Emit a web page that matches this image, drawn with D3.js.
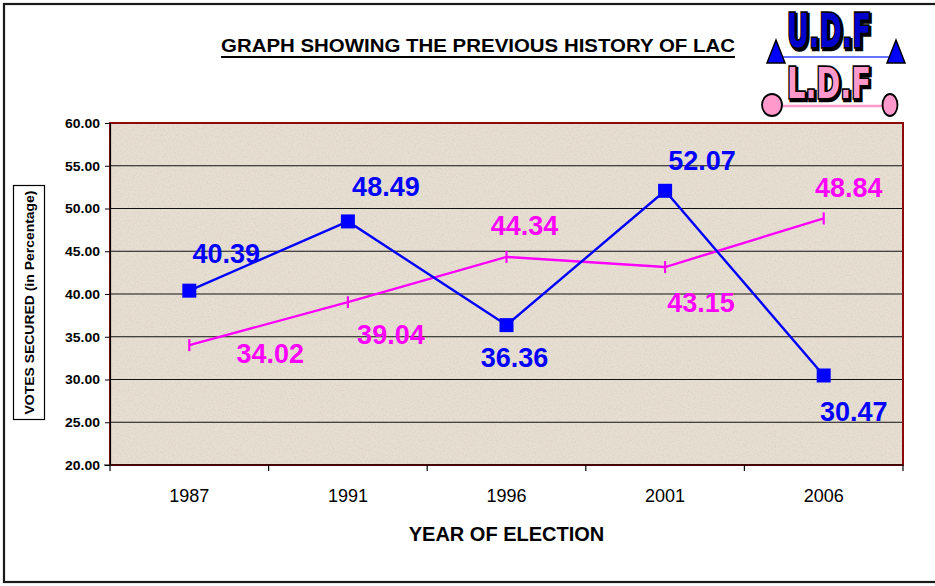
<!DOCTYPE html>
<html><head><meta charset="utf-8">
<script src="https://cdn.jsdelivr.net/npm/d3@7"></script>
<style>html,body{margin:0;padding:0;background:#fff;}svg{display:block;font-family:"Liberation Sans",Arial,sans-serif;}</style>
</head><body>
<svg id="chart" width="935" height="586"></svg>
<script>
// ---- data ----
const years = ["1987", "1991", "1996", "2001", "2006"];
const udfValues = [40.39, 48.49, 36.36, 52.07, 30.47];
const ldfValues = [34.02, 39.04, 44.34, 43.15, 48.84];
const yTicks = [20, 25, 30, 35, 40, 45, 50, 55, 60];
const titleText = "GRAPH SHOWING THE PREVIOUS HISTORY OF LAC";
const xTitle = "YEAR OF ELECTION";
const yTitle = "VOTES SECURED (in Percentage)";
// label placement offsets (styling)
const udfLabelOff = [[37, -28], [38, -25], [8, 42], [37, -21], [30, 46]];
const ldfLabelOff = [[81, 18], [43, 42], [18, -22], [36, 45], [25, -21]];

const svg = d3.select("#chart");
const defs = svg.append("defs");
const f = defs.append("filter").attr("id", "tex").attr("x", 0).attr("y", 0).attr("width", 1).attr("height", 1);
f.append("feTurbulence").attr("type", "fractalNoise").attr("baseFrequency", 0.6).attr("numOctaves", 2).attr("seed", 7).attr("result", "n");
f.append("feColorMatrix").attr("in", "n").attr("type", "matrix")
  .attr("values", "0 0 0 0 0.55  0 0 0 0 0.48  0 0 0 0 0.40  1.4 0 0 0 -0.62").attr("result", "c");
f.append("feComposite").attr("in", "c").attr("in2", "SourceGraphic").attr("operator", "over");

// outer border
svg.append("rect").attr("x", 4).attr("y", 4).attr("width", 940).attr("height", 578)
  .attr("fill", "none").attr("stroke", "#1a1a1a").attr("stroke-width", 2.2);

const L = 110, R = 903, T = 123, B = 465;
const x = d3.scaleBand().domain(years).range([L, R]).padding(0);
const y = d3.scaleLinear().domain([20, 60]).range([B, T]);
const cx = d => x(d) + x.bandwidth() / 2;

// plot background
svg.append("rect").attr("x", L).attr("y", T).attr("width", R - L).attr("height", B - T).attr("fill", "#e7ded2");
svg.append("rect").attr("x", L).attr("y", T).attr("width", R - L).attr("height", B - T).attr("fill", "#e7ded2").attr("filter", "url(#tex)").attr("opacity", 0.45);

// gridlines
svg.append("g").selectAll("line").data(yTicks.filter(v => v > 20 && v < 60)).join("line")
  .attr("x1", L).attr("x2", R).attr("y1", d => y(d)).attr("y2", d => y(d))
  .attr("stroke", "#111").attr("stroke-width", 1.2);

// plot border
svg.append("rect").attr("x", L).attr("y", T).attr("width", R - L).attr("height", B - T)
  .attr("fill", "none").attr("stroke", "#8b0a0a").attr("stroke-width", 2);

// y axis
const yAxis = d3.axisLeft(y).tickValues(yTicks).tickFormat(d3.format(".2f")).tickSize(5).tickPadding(5);
const gy = svg.append("g").attr("transform", `translate(${L},0)`).call(yAxis);
gy.select(".domain").attr("stroke", "#000").attr("stroke-width", 1.2);
gy.selectAll(".tick line").attr("stroke", "#000");
gy.selectAll(".tick text").attr("font-size", 13.5).attr("font-weight", "bold").attr("fill", "#000")
  .attr("font-family", "Liberation Sans, Arial, sans-serif").attr("textLength", 35).attr("lengthAdjust", "spacingAndGlyphs");

// x axis (ticks at band boundaries)
const gx = svg.append("g").attr("transform", `translate(0,${B})`);
gx.append("line").attr("x1", L - 6).attr("x2", R).attr("y1", 0).attr("y2", 0).attr("stroke", "#000").attr("stroke-width", 1.2);
gx.selectAll("line.tk").data(years.concat(["end"])).join("line").attr("class", "tk")
  .attr("x1", (d, i) => i < years.length ? x(d) : R).attr("x2", (d, i) => i < years.length ? x(d) : R)
  .attr("y1", 0).attr("y2", 6).attr("stroke", "#000").attr("stroke-width", 1.2);
gx.selectAll("text").data(years).join("text")
  .attr("x", d => cx(d)).attr("y", 37).attr("text-anchor", "middle")
  .attr("font-size", 18).attr("fill", "#000").text(d => d);

// axis titles
svg.append("text").attr("x", (L + R) / 2).attr("y", 541).attr("text-anchor", "middle")
  .attr("font-size", 20).attr("font-weight", "bold").attr("fill", "#000").text(xTitle);
svg.append("rect").attr("x", 13.5).attr("y", 185.5).attr("width", 31).attr("height", 234)
  .attr("fill", "#fff").attr("stroke", "#000").attr("stroke-width", 1.2);
svg.append("text").attr("transform", "translate(33.5,302.5) rotate(-90)").attr("text-anchor", "middle")
  .attr("font-size", 13).attr("font-weight", "bold").attr("fill", "#000")
  .attr("textLength", 224).attr("lengthAdjust", "spacingAndGlyphs").text(yTitle);

// title
svg.append("text").attr("x", 478).attr("y", 52).attr("text-anchor", "middle")
  .attr("font-size", 18.5).attr("font-weight", "bold").attr("fill", "#000")
  .attr("textLength", 514).attr("lengthAdjust", "spacingAndGlyphs").text(titleText);
svg.append("line").attr("x1", 221).attr("x2", 735).attr("y1", 57).attr("y2", 57).attr("stroke", "#000").attr("stroke-width", 2);

// lines
const line = d3.line().x((d, i) => cx(years[i])).y(d => y(d));
svg.append("path").datum(ldfValues).attr("d", line).attr("fill", "none").attr("stroke", "#ff00ff").attr("stroke-width", 2.4);
svg.append("path").datum(udfValues).attr("d", line).attr("fill", "none").attr("stroke", "#0000ff").attr("stroke-width", 2.4);

// markers
svg.append("g").selectAll("line").data(ldfValues).join("line")
  .attr("x1", (d, i) => cx(years[i])).attr("x2", (d, i) => cx(years[i]))
  .attr("y1", d => y(d) - 6).attr("y2", d => y(d) + 6).attr("stroke", "#ff00ff").attr("stroke-width", 2.2);
svg.append("g").selectAll("rect").data(udfValues).join("rect")
  .attr("x", (d, i) => cx(years[i]) - 7).attr("y", d => y(d) - 7).attr("width", 14).attr("height", 14).attr("fill", "#0000ff");

// value labels
svg.append("g").selectAll("text").data(udfValues).join("text")
  .attr("x", (d, i) => cx(years[i]) + udfLabelOff[i][0]).attr("y", (d, i) => y(d) + udfLabelOff[i][1])
  .attr("text-anchor", "middle").attr("font-size", 27).attr("font-weight", "bold").attr("fill", "#0000ff")
  .text(d => d.toFixed(2));
svg.append("g").selectAll("text").data(ldfValues).join("text")
  .attr("x", (d, i) => cx(years[i]) + ldfLabelOff[i][0]).attr("y", (d, i) => y(d) + ldfLabelOff[i][1])
  .attr("text-anchor", "middle").attr("font-size", 27).attr("font-weight", "bold").attr("fill", "#ff00ff")
  .text(d => d.toFixed(2));

// logo
const logo = svg.append("g");
logo.append("line").attr("x1", 780).attr("x2", 893).attr("y1", 57).attr("y2", 57).attr("stroke", "#3344ff").attr("stroke-width", 1.3);
logo.selectAll("path.tri").data([776, 896]).join("path").attr("class", "tri")
  .attr("d", d => `M${d},40 L${d + 9},63 L${d - 9},63 Z`).attr("fill", "#0000ff").attr("stroke", "#000").attr("stroke-width", 1.5);
[["U.D.F", 47, "#0000cc", 46], ["L.D.F", 98, "#ff99cc", 42]].forEach(([t, by, col, fs]) => {
  logo.append("text").attr("x", 830.5).attr("y", by + 1.5).attr("text-anchor", "middle")
    .attr("font-size", fs).attr("font-weight", "bold").attr("font-family", "DejaVu Sans Condensed, Liberation Sans Narrow, sans-serif")
    .attr("textLength", 84).attr("lengthAdjust", "spacingAndGlyphs")
    .attr("fill", "#000").attr("stroke", "#000").attr("stroke-width", 4.5).text(t);
  logo.append("text").attr("x", 829).attr("y", by).attr("text-anchor", "middle")
    .attr("font-size", fs).attr("font-weight", "bold").attr("font-family", "DejaVu Sans Condensed, Liberation Sans Narrow, sans-serif")
    .attr("textLength", 84).attr("lengthAdjust", "spacingAndGlyphs")
    .attr("fill", col).attr("stroke", "#000").attr("stroke-width", 3.5).attr("paint-order", "stroke").text(t);
});
logo.append("line").attr("x1", 780).attr("x2", 885).attr("y1", 106).attr("y2", 106).attr("stroke", "#ff99cc").attr("stroke-width", 2.5);
logo.selectAll("ellipse").data([[772, 10], [890, 7.5]]).join("ellipse")
  .attr("cx", d => d[0]).attr("cy", 105).attr("rx", d => d[1]).attr("ry", 11)
  .attr("fill", "#ff99cc").attr("stroke", "#000").attr("stroke-width", 1.8);
</script>
</body></html>
